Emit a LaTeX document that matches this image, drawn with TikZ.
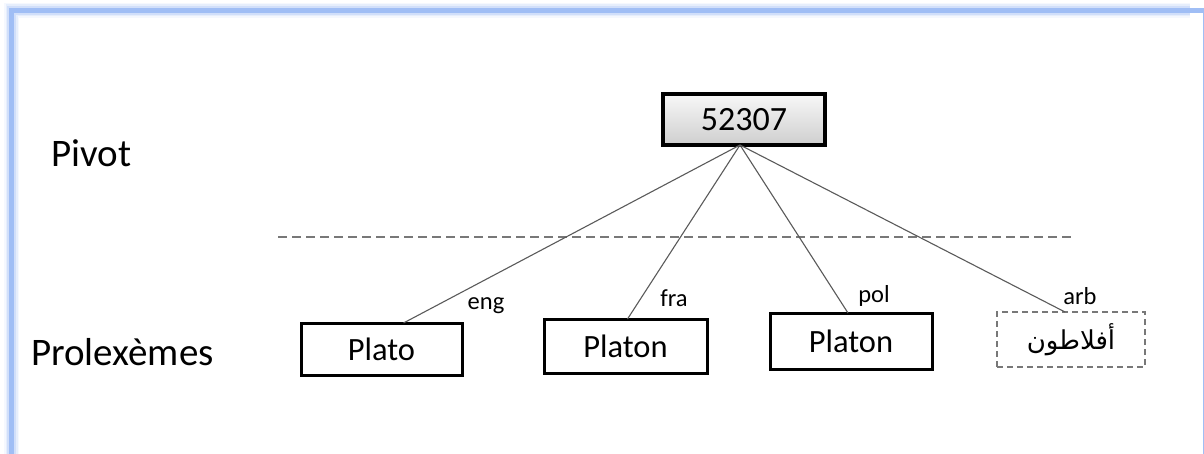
\documentclass[tikz,border=0pt]{standalone}
\usepackage{fontspec}
\setmainfont{Carlito}
\newfontfamily\arabicfont[Script=Arabic]{DejaVu Sans}
\TeXXeTstate=1
\definecolor{frameblue}{RGB}{160,190,245}
\definecolor{linegray}{RGB}{90,90,90}
\definecolor{dashgray}{RGB}{120,120,120}
\begin{document}
\begin{tikzpicture}[x=1pt,y=-1pt,
  lexbox/.style={draw=black,line width=3pt,fill=white,inner sep=0pt,outer sep=0pt,
     font=\fontsize{32.5}{34}\selectfont},
  pivotbox/.style={draw=black,line width=3.5pt,top color=gray!6,bottom color=gray!38,
     inner sep=0pt,outer sep=0pt,font=\fontsize{34}{36}\selectfont},
  arbbox/.style={draw=dashgray,line width=1.2pt,dash pattern=on 6pt off 4pt,inner sep=0pt,outer sep=0pt},
  langlabel/.style={inner sep=0pt,font=\fontsize{24.5}{26}\selectfont},
  rowlabel/.style={inner sep=0pt,anchor=west,font=\fontsize{39}{41}\selectfont},
  link/.style={draw=linegray,line width=1.1pt},
  sep/.style={draw=dashgray,line width=1.3pt,dash pattern=on 9pt off 5pt}]
\useasboundingbox (0,0) rectangle (1204,453);
% frame with soft edge (left and top)
\foreach \w/\o in {15/0.10,12/0.18,9/0.3}{
  \draw[frameblue,line width=\w pt,opacity=\o] (11.5,460) -- (11.5,10) -- (1190,10);
}
\draw[frameblue,line width=5pt] (11.5,460) -- (11.5,10) -- (1205.5,10) -- (1205.5,460);

% row labels
\node[rowlabel] (pivotlbl) at (51,153) {Pivot};
\node[rowlabel] (prolbl) at (31,352) {Prolexèmes};

% separator
\coordinate (sepL) at (278,237);
\coordinate (sepR) at (1075,237);
\draw[sep] (sepL) -- (sepR);

% nodes
\node[pivotbox,minimum width=162pt,minimum height=51pt] (top) at (744,119.5) {52307};
\node[lexbox,minimum width=161pt,minimum height=52pt] (eng) at (381.5,349) {Plato};
\node[lexbox,minimum width=163pt,minimum height=54pt] (fra) at (625.5,346) {Platon};
\node[lexbox,minimum width=162pt,minimum height=56pt] (pol) at (851,341) {Platon};
\node[arbbox,minimum width=148pt,minimum height=55pt] (arb) at (1071,339.5)
   {\fontsize{26}{28}\arabicfont\beginR أفلاطون\endR};

% connectors
\draw[link] ([xshift=-4pt]top.south) -- ([xshift=22pt]eng.north);
\draw[link] ([xshift=-4pt]top.south) -- ([xshift=2pt]fra.north);
\draw[link] ([xshift=-4pt]top.south) -- ([xshift=-3pt]pol.north);
\draw[link] ([xshift=-4pt]top.south) -- ([xshift=-6pt]arb.north);

% language labels
\node[langlabel] (leng) at (486,306) {eng};
\node[langlabel] (lfra) at (674,298) {fra};
\node[langlabel] (lpol) at (874,296) {pol};
\node[langlabel] (larb) at (1080,296) {arb};
\end{tikzpicture}
\end{document}
